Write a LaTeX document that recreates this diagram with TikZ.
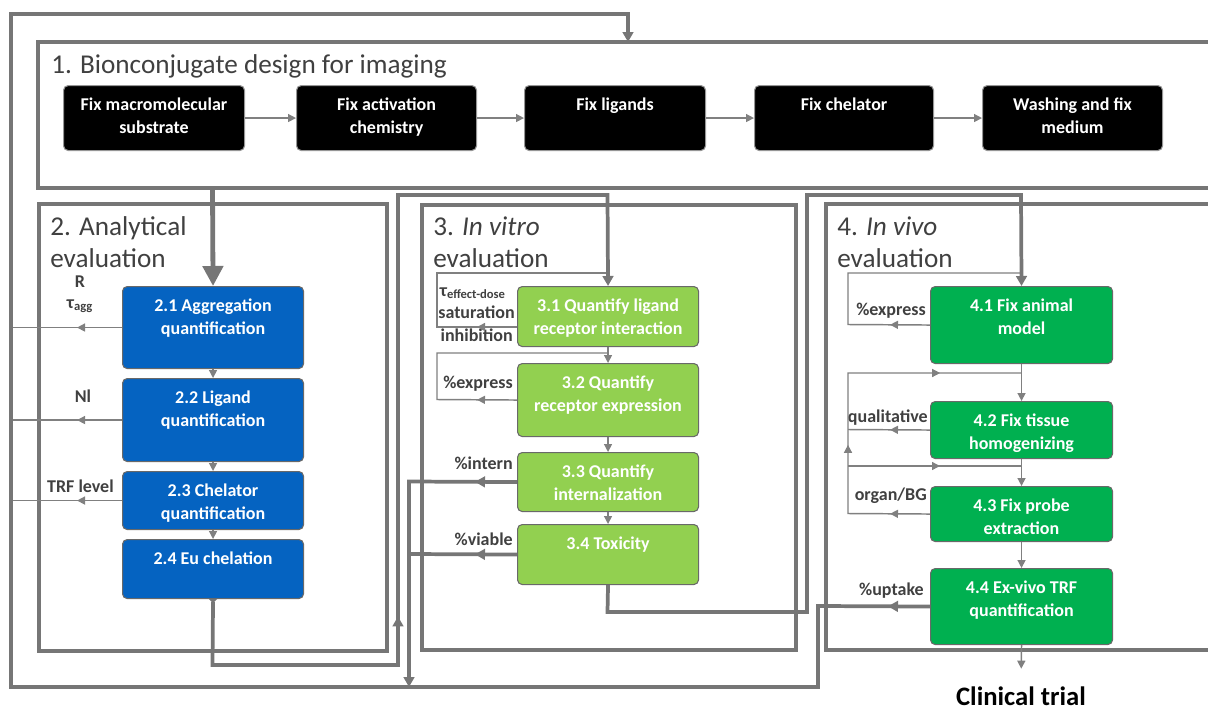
\documentclass[tikz,border=0pt]{standalone}
\usepackage{fontspec}
\setmainfont{Carlito}
\usetikzlibrary{arrows.meta,decorations.markings}
\newlength\pxu \setlength\pxu{0.75pt}
\definecolor{cline}{RGB}{118,118,118}
\definecolor{cthin}{RGB}{128,128,128}
\definecolor{ctext}{RGB}{64,64,64}
\definecolor{cblue}{RGB}{5,99,193}
\definecolor{clgreen}{RGB}{146,208,80}
\definecolor{cdgreen}{RGB}{0,176,80}
\definecolor{cbord}{RGB}{105,105,105}
\definecolor{cblkbord}{RGB}{150,150,150}
\newcommand\procbox[7]{\node[#2] (#1) at (#3,#4) {\parbox[c][\dimexpr #6\pxu-#4\pxu\relax][t]{\dimexpr #5\pxu-#3\pxu\relax}{\centering\rule{0pt}{24.5\pxu}#7\par}};}
\begin{document}
\begin{tikzpicture}[x=0.75pt,y=-0.75pt,
  stepbox/.style={rounded corners=3.5pt, draw=cbord, line width=0.8pt, inner sep=0pt, anchor=north west, text=white, font=\bfseries\fontsize{13.5}{17.25}\selectfont},
  blk/.style={stepbox, fill=black, draw=cblkbord},
  blu/.style={stepbox, fill=cblue},
  lgr/.style={stepbox, fill=clgreen},
  dgr/.style={stepbox, fill=cdgreen},
  ttl/.style={anchor=base west, inner sep=0pt, text=ctext, font=\fontsize{20.4}{24}\selectfont},
  lbl/.style={anchor=base east, inner sep=0pt, text=ctext, font=\bfseries\fontsize{13.5}{16}\selectfont},
  frame/.style={draw=cline, line width=2.6pt},
  thinl/.style={draw=cthin, color=cthin, line width=1.1pt},
  thickl/.style={draw=cline, color=cline, line width=2.8pt},
  tarr/.style={-{Triangle[length=6pt,width=6pt]}},
  Tarr/.style={-{Triangle[length=7.5pt,width=8pt]}},
  Barr/.style={-{Triangle[length=15pt,width=15pt]}},
  midthin/.style={postaction={decorate}, decoration={markings, mark=at position #1 with {\arrow{Triangle[length=6pt,width=6pt]}}}},
  midthick/.style={postaction={decorate}, decoration={markings, mark=at position #1 with {\arrow{Triangle[length=7.5pt,width=8pt]}}}}
]
\useasboundingbox (0,0) rectangle (1208,711);
% section frames
\draw[frame] (38,42) rectangle (1250,188);
\draw[frame] (39,204) rectangle (387,651);
\draw[frame] (422,205) rectangle (796,650);
\draw[frame] (826,204) rectangle (1250,650);
% titles
\node[ttl] (t1) at (51,73) {1. Bionconjugate design for imaging};
\node[ttl] (t2a) at (50,235) {2. Analytical};
\node[ttl] (t2b) at (50,267) {evaluation};
\node[ttl] (t3a) at (433,235) {3. \textit{In vitro}};
\node[ttl] (t3b) at (433,267) {evaluation};
\node[ttl] (t4a) at (837,235) {4. \textit{In vivo}};
\node[ttl] (t4b) at (837,267) {evaluation};
% step boxes
\procbox{A}{blk}{63}{85}{244}{150}{Fix macromolecular\\substrate}
\procbox{B}{blk}{296}{85}{476}{150}{Fix activation\\chemistry}
\procbox{C}{blk}{524}{85}{705}{150}{Fix ligands}
\procbox{D}{blk}{754}{85}{933}{150}{Fix chelator}
\procbox{E}{blk}{982}{85}{1162}{150}{Washing and fix\\medium}
\procbox{b21}{blu}{122}{286}{303}{368}{2.1 Aggregation\\quantification}
\procbox{b22}{blu}{122}{378}{303}{461}{2.2 Ligand\\quantification}
\procbox{b23}{blu}{122}{471}{303}{529}{2.3 Chelator\\quantification}
\procbox{b24}{blu}{122}{539}{303}{598}{2.4 Eu chelation}
\procbox{g31}{lgr}{517}{286}{698}{346}{3.1 Quantify ligand\\receptor interaction}
\procbox{g32}{lgr}{517}{363}{698}{436}{3.2 Quantify\\receptor expression}
\procbox{g33}{lgr}{517}{452}{698}{511}{3.3 Quantify\\internalization}
\procbox{g34}{lgr}{517}{524}{698}{584}{3.4 Toxicity}
\procbox{h41}{dgr}{930}{286}{1112}{363}{4.1 Fix animal\\model}
\procbox{h42}{dgr}{930}{401}{1112}{458}{4.2 Fix tissue\\homogenizing}
\procbox{h43}{dgr}{930}{486}{1112}{541}{4.3 Fix probe\\extraction}
\procbox{h44}{dgr}{930}{568}{1112}{644}{4.4 Ex-vivo TRF\\quantification}
\node[anchor=base, inner sep=0pt, font=\bfseries\fontsize{20}{24}\selectfont] (ct) at (1021,705) {Clinical trial};
% labels
\node[anchor=base, inner sep=0pt, text=ctext, font=\bfseries\fontsize{13.5}{16}\selectfont] (lR) at (80,287) {R};
\node[anchor=base, inner sep=0pt, text=ctext, font=\bfseries\fontsize{13.5}{16}\selectfont] (lT) at (80,308) {τ\textsubscript{agg}};
\node[anchor=base, inner sep=0pt, text=ctext, font=\bfseries\fontsize{13.5}{16}\selectfont] (lN) at (83,402) {Nl};
\node[lbl] (lTRF) at (114,492) {TRF level};
\node[lbl] (lTe) at (506,296) {τ\textsubscript{effect-dose}};
\node[lbl] (lSat) at (515,318) {saturation};
\node[lbl] (lInh) at (513,341) {inhibition};
\node[lbl] (lEx3) at (513,388) {\%express};
\node[lbl] (lInt) at (513,469) {\%intern};
\node[lbl] (lVia) at (513,545) {\%viable};
\node[lbl] (lEx4) at (926,315) {\%express};
\node[lbl] (lQual) at (928,422) {qualitative};
\node[lbl] (lOrg) at (927,500) {organ/BG};
\node[lbl] (lUpt) at (924,595) {\%uptake};
% coordinates
\coordinate (s1top) at (628,42);
\coordinate (s1bot) at (212.5,188);
\coordinate (oBL) at (11,687);
\coordinate (oTL) at (11,14);
\coordinate (oTR) at (628,14);
\coordinate (uR) at (818,606);
\coordinate (uB) at (818,687);
\coordinate (jB) at (409,687);
\coordinate (i1) at (409,481.5);
\coordinate (i2) at (409,554);
\coordinate (e1) at (212.5,665);
\coordinate (e2) at (398,665);
\coordinate (e3) at (398,195);
\coordinate (e4) at (607.5,195);
\coordinate (f1) at (607.5,612);
\coordinate (f2) at (807,612);
\coordinate (f3) at (807,195);
\coordinate (f4) at (1021,195);
\coordinate (g31o) at (517,327);
\coordinate (p1) at (437,327);
\coordinate (p2) at (437,273);
\coordinate (p3) at (607.5,273);
\coordinate (q1) at (437,399.5);
\coordinate (q2) at (437,353);
\coordinate (q3) at (607.5,353);
\coordinate (r1) at (848,324.5);
\coordinate (r2) at (848,273);
\coordinate (r3) at (1021,273);
\coordinate (s1) at (848,429.5);
\coordinate (v1) at (848,513.5);
\coordinate (v2) at (848,373);
\coordinate (v3) at (1021,373);
\coordinate (w1) at (848,466);
\coordinate (w2) at (1021,466);
% section 1 chain
\draw[thinl, tarr] (A) -- (B);
\draw[thinl, tarr] (B) -- (C);
\draw[thinl, tarr] (C) -- (D);
\draw[thinl, tarr] (D) -- (E);
% section 1 to 2.1
\draw[thickl, line width=3.6pt, Barr] (s1bot) -- (b21.north);
% vertical chains
\draw[thinl, tarr] (b21) -- (b22);
\draw[thinl, tarr] (b22) -- (b23);
\draw[thinl, tarr] (b23) -- (b24);
\draw[thinl, tarr] (g31) -- (g32);
\draw[thinl, tarr] (g32) -- (g33);
\draw[thinl, tarr] (g33) -- (g34);
\draw[thinl, tarr] (h41) -- (h42);
\draw[thinl, tarr] (h42) -- (h43);
\draw[thinl, tarr] (h43) -- (h44);
\draw[thinl, tarr, shorten >=13pt] (h44.south) -- (ct.north);
% section 2 outputs
\draw[thinl, midthin=33.75pt] (b21.west) -- (b21.west -| oBL);
\draw[thinl, midthin=33.75pt] (b22.west) -- (b22.west -| oBL);
\draw[thinl, midthin=33.75pt] (b23.west) -- (b23.west -| oBL);
% section 3 loops
\draw[thinl, midthin=30pt] (g31o) -- (p1) -- (p2) -- (p3);
\draw[thinl, midthin=30pt] (g32.west) -- (q1) -- (q2) -- (q3);
\draw[thickl, midthick=31.5pt, Tarr] (g33.west) -- (i1) -- (jB);
\draw[thickl, midthick=31.5pt] (g34.west) -- (i2);
% section 4 loops
\draw[thinl, midthin=30pt] (h41.west) -- (r1) -- (r2) -- (r3);
\draw[thinl, midthin=30pt] (h42.west) -- (s1);
\draw[thinl, postaction={decorate}, decoration={markings,
   mark=at position 30pt with {\arrow{Triangle[length=6pt,width=6pt]}},
   mark=at position 113pt with {\arrow{Triangle[length=6pt,width=6pt]}},
   mark=at position 236pt with {\arrow{Triangle[length=6pt,width=6pt]}}}]
   (h43.west) -- (v1) -- (v2) -- (v3);
\draw[thinl, midthin=69pt] (w1) -- (w2);
% thick feedback loops
\draw[thickl, {Triangle[reversed,length=3pt,width=6pt]}-{Triangle[length=7.5pt,width=8pt]}, midthick=225pt] (b24.south) -- (e1) -- (e2) -- (e3) -- (e4) -- (g31.north);
\draw[thickl, Tarr] (g34.south) -- (f1) -- (f2) -- (f3) -- (f4) -- (h41.north);
\draw[thickl, Tarr, midthick=31.5pt] (h44.west) -- (uR) -- (uB) -- (oBL) -- (oTL) -- (oTR) -- (s1top);
\end{tikzpicture}
\end{document}
